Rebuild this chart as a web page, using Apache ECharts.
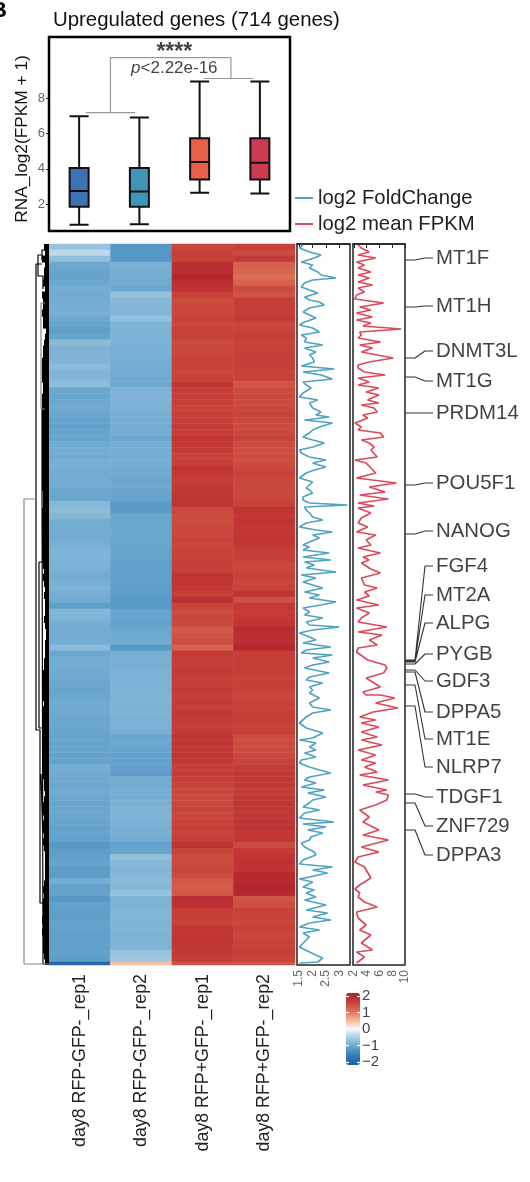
<!DOCTYPE html>
<html><head><meta charset="utf-8">
<style>html,body{margin:0;padding:0;background:#fff}#c{width:530px;height:1182px}</style>
<script src="https://cdn.jsdelivr.net/npm/echarts@6/dist/echarts.min.js"></script>
</head><body><div id="c"></div>
<script>
const FONT = 'Liberation Sans';
const samples = ['day8 RFP-GFP-_rep1','day8 RFP-GFP-_rep2','day8 RFP+GFP-_rep1','day8 RFP+GFP-_rep2'];
// boxplot: [min, q1, median, q3, max]
const box1 = [0.83,1.85,2.75,4.05,7.0];
const box2 = [0.85,1.85,2.72,4.05,6.93];
const box3 = [2.65,3.4,4.4,5.75,8.97];
const box4 = [2.6,3.4,4.35,5.75,8.97];
const boxColors = ['#3F72B5','#3E97B7','#E95F47','#D03A50'];
const boxTicks = [2,4,6,8];
// heatmap z-scores, top row to bottom row
const heatA = [
-.65,-.38,-.7,-1,-1.02,-1.06,-1,-.92,-.95,-.95,
-.92,-.9,-.98,-1.05,-1.12,-1.05,-.76,-.84,-.84,-.84,
-.74,-.82,-.82,-.74,-1,-1.02,-1,-.98,-1.02,-1.06,
-1.08,-1.05,-1.04,-.96,-.94,-.96,-.92,-.92,-.96,-.94,
-.96,-1,-1,-.78,-.74,-.8,-.92,-.95,-.95,-.94,
-.88,-.85,-.85,-.86,-.88,-.95,-.9,-.86,-.92,-.95,
-1.12,-.8,-.84,-.92,-.95,-.96,-.92,-.75,-1,-.95,
-.94,-.96,-.98,-1,-1.02,-1,-.96,-.96,-.98,-1,
-1,-1.02,-1.04,-1.06,-1.04,-1.06,-1.08,-.95,-.96,-.98,
-1,-.98,-1,-1.02,-1,-1.02,-1.04,-1.06,-1.05,-1.08,
-1.2,-1.14,-1.1,-1.05,-1.12,-1.14,-.92,-1.08,-1.06,-1.2,
-1.08,-1.1,-1.12,-1.06,-1.08,-1.1,-1.08,-1.1,-1.08,-1.12];
const heatB = [
-1.2,-1.22,-1.2,-.88,-.92,-.92,-.95,-1,-.66,-.78,
-.82,-.82,-.66,-.86,-.86,-.86,-.88,-.9,-.9,-.92,
-.94,-.96,-.98,-1,-.86,-.84,-.86,-.88,-.9,-.9,
-.92,-.94,-1,-.92,-.92,-.94,-.92,-.95,-.96,-1.02,
-.98,-1.02,-1.04,-1.16,-1.16,-1.02,-1,-1,-1,-1,
-1.02,-1.02,-1.05,-1.08,-1.1,-1.08,-1.1,-1.12,-1.14,-1.16,
-1.18,-1.05,-1.04,-1.06,-1,-.98,-.96,-1.2,-.9,-.9,
-.9,-.88,-.88,-.86,-.86,-.84,-.84,-.86,-.86,-.88,
-.88,-.9,-1.02,-1,-1.04,-1.06,-1.08,-1.1,-1.14,-.96,
-.95,-.92,-.92,-.88,-.86,-.86,-.88,-.9,-.9,-.92,
-1.08,-1.02,-.68,-.78,-.82,-.8,-.76,-.78,-.66,-.84,
-.84,-.82,-.82,-.84,-.82,-.84,-.84,-.84,-.66,-.6];
const heatC = [
1.5,1.6,1.55,1.85,1.85,2,1.85,1.8,1.55,1.45,
1.5,1.5,1.55,1.5,1.55,1.55,1.45,1.5,1.5,1.55,
1.55,1.5,1.55,1.75,1.6,1.6,1.6,1.55,1.6,1.6,
1.65,1.6,1.75,1.7,1.65,1.55,1.6,1.75,1.7,1.6,
1.65,1.7,1.75,1.75,1.5,1.45,1.45,1.5,1.5,1.55,
1.5,1.55,1.55,1.6,1.55,1.75,1.75,1.7,1.6,1.85,
1.55,1.45,1.5,1.45,1.3,1.35,1.4,1.2,1.65,1.6,
1.6,1.65,1.6,1.6,1.65,1.6,1.65,1.6,1.7,1.65,
1.6,1.65,1.75,1.75,1.7,1.75,1.7,1.6,1.65,1.6,
1.55,1.5,1.45,1.5,1.55,1.5,1.55,1.6,1.55,1.6,
1.78,1.55,1.45,1.45,1.5,1.45,1.3,1.25,1.3,1.85,
1.8,1.6,1.6,1.55,1.7,1.7,1.75,1.7,1.65,1.6];
const heatD = [
1.55,1.45,1.65,1.2,1.15,1.05,1.2,1.45,1.35,1.6,
1.6,1.6,1.65,1.5,1.55,1.6,1.55,1.55,1.6,1.6,
1.6,1.55,1.55,1.35,1.45,1.5,1.45,1.5,1.55,1.5,
1.45,1.5,1.55,1.45,1.4,1.45,1.45,1.5,1.55,1.5,
1.5,1.5,1.5,1.55,1.75,1.7,1.75,1.7,1.7,1.75,
1.7,1.6,1.6,1.5,1.5,1.55,1.5,1.55,1.75,1.4,
1.7,1.65,1.7,1.75,1.9,1.85,1.85,2,1.6,1.6,
1.6,1.6,1.55,1.6,1.55,1.5,1.55,1.55,1.6,1.6,
1.55,1.6,1.45,1.45,1.45,1.5,1.55,1.65,1.7,1.7,
1.7,1.65,1.7,1.75,1.7,1.7,1.75,1.8,1.7,1.7,
1.45,1.7,1.75,1.8,1.75,1.95,1.95,2,1.95,1.35,
1.4,1.55,1.55,1.5,1.55,1.5,1.55,1.55,1.6,1.55];
const heatLast = [-1.95,0.45,1.35,1.35];
// log2 FoldChange profile
const fcRow = [1,4,8,11,14,18,21,24,28,31,34,36,39,43,46,49,53,56,58,61,64,68,71,74,78,81,84,88,91,94,98,101,104,108,111,114,118,122,125,128,131,135,138,141,144,149,153,156,159,164,168,171,173,176,179,183,186,189,193,196,199,203,206,209,213,216,219,223,226,229,234,238,241,244,
246,249,253,256,259,261,263,266,269,273,276,279,283,286,288,291,294,298,301,303,306,309,313,316,318,321,324,328,331,334,338,341,344,348,351,354,358,361,364,368,371,374,378,381,383,386,389,393,396,399,403,406,409,411,414,418,421,424,429,433,436,439,443,446,449,454,459,463,466,469,473,479,484,489,494,
496,499,503,506,509,513,516,519,523,526,529,533,536,539,543,546,549,553,556,559,563,566,569,574,578,580,583,586,589,593,596,599,603,608,611,616,620,623,626,629,633,635,638,643,646,649,653,656,661,666,669,673,676,679,683,686,689,693,696,703,708,711,714,718,719];
const fcValue = [1.65,1.52,1.89,2.32,2.07,1.59,2.01,1.89,2.2,2.32,2.87,2.01,1.71,1.59,1.89,2.2,1.71,1.89,2.26,2.44,1.89,1.65,1.89,2.13,1.71,1.52,2.01,2.26,1.59,1.77,1.71,2.38,1.71,2.13,1.89,2.01,2.07,1.59,2.8,1.65,2.32,2.74,1.65,1.77,1.95,1.65,1.52,2.2,1.89,2.01,2.32,2.13,2.62,1.71,2.74,2.26,2.01,1.89,1.65,2.01,2.44,2.01,1.52,1.59,1.89,2.5,2.01,2.5,2.07,1.77,1.52,2.01,1.89,1.77,
1.89,2.01,1.65,1.65,1.89,3.29,1.71,1.77,1.89,2.01,2.38,1.77,1.52,2.13,2.74,2.01,2.26,1.89,1.65,1.89,1.65,2.62,1.65,2.68,1.71,2.07,1.77,2.87,1.59,2.13,1.65,2.01,2.38,1.71,2.26,1.89,2.87,2.32,1.65,1.89,1.71,2.38,1.77,1.89,2.99,2.01,1.52,1.89,2.13,1.65,2.68,1.77,1.59,2.74,2.01,2.62,2.01,1.71,2.62,1.89,1.77,2.38,1.89,2.01,1.89,2.26,1.89,2.01,2.68,2.01,1.77,1.52,1.77,2.38,2.01,
1.52,2.13,1.89,2.13,1.71,2.13,1.59,1.52,1.89,2.26,2.68,1.89,1.71,2.13,1.59,2.44,1.83,2.5,2.01,1.89,1.65,2.26,1.71,1.52,2.8,1.65,2.5,1.83,2.38,1.95,1.89,1.59,1.71,2.07,2.13,1.65,1.52,2.74,2.01,2.56,1.89,1.52,2.01,1.65,2.07,1.77,2.13,1.71,2.5,1.77,2.56,2.01,2.68,1.89,1.52,2.26,1.65,1.89,1.77,1.52,1.89,2.13,2.38,2.2,1.52];
// log2 mean FPKM profile
const fpkmRow = [1,4,8,11,14,18,21,24,28,31,34,38,41,44,48,51,55,59,63,66,69,73,76,79,82,85,88,91,94,98,101,104,108,111,114,118,121,124,128,131,134,138,141,144,148,151,156,159,161,164,168,171,174,179,183,186,189,193,196,199,203,206,213,216,219,224,229,234,239,243,
248,251,255,259,262,264,269,274,279,283,288,291,296,301,304,309,313,316,319,325,329,334,341,344,348,352,356,361,364,369,374,378,383,388,391,396,401,404,408,416,421,424,429,434,439,443,448,451,451,454,459,464,468,473,476,479,483,488,493,
496,501,506,511,516,519,523,528,531,536,541,546,548,551,556,561,566,573,578,586,591,596,603,608,613,618,623,634,641,645,649,653,658,663,668,674,681,686,691,699,706,708,713,719];
const fpkmValue = [2.65,3.15,4.4,2.65,5.4,2.4,3.65,2.65,4.65,2.65,4.4,2.65,4.9,2.65,3.65,2.4,2.15,6.65,2.9,4.65,2.4,4.9,2.4,4.65,3.4,9.4,2.9,3.15,2.65,6.15,2.9,4.9,3.15,5.65,8.15,4.4,2.65,2.65,3.65,6.9,2.65,4.4,2.65,5.9,3.9,5.9,4.15,5.9,3.15,5.15,5.65,3.4,4.15,2.15,3.15,2.65,6.15,6.65,3.15,4.4,5.15,4.65,5.65,2.15,3.9,4.65,5.4,2.4,8.65,4.4,
6.9,2.9,7.4,2.65,5.15,2.65,4.65,3.15,2.65,4.15,2.4,5.4,3.9,4.65,2.65,6.15,3.4,4.4,3.15,4.65,6.15,3.15,3.65,5.65,3.65,4.4,2.4,5.9,2.4,4.4,3.15,2.65,7.15,2.65,6.4,4.4,5.65,2.65,2.4,4.15,6.9,7.15,6.65,3.9,5.15,6.15,3.4,3.9,6.15,8.4,5.4,8.9,5,2.9,5.4,3.15,5.9,3.15,5.65,3.15,
6.4,2.65,5.4,3.15,5.4,3.65,5.65,2.9,7.4,3.4,7.15,5.4,7.4,7.15,5.4,2.9,4.4,3.4,5.9,3.4,7.4,3.15,5.9,2.65,2.15,3.65,4.65,2.9,2.15,2.9,2.65,3.65,5.65,2.4,2.65,3.9,2.9,4.65,3.15,4.9,2.4,3.65,2.4,4.15,2.9,7.65,2.4,3.65];
const fcTicks = [1.5,2,2.5,3];
const fpkmTicks = [2,4,6,8,10];
// labelled genes: heat row and label row
const geneNames = ['MT1F','MT1H','DNMT3L','MT1G','PRDM14','POU5F1','NANOG','FGF4','MT2A','ALPG','PYGB','GDF3','DPPA5','MT1E','NLRP7','TDGF1','ZNF729','DPPA3'];
const geneRow = [16,63,114,133,169,241,290,416,417,418,420,426,428,441,462,550,559,586];
const geneLabelRow = [14,62,107,137,169,239,287,322,351,379,410,437,468,495,523,553,582,611];
// dendrogram: leaf-cluster heights per 120 rows, and branch paths (height,row)
const dendMass = [
5,4,7,4,5,5,6,4,7,6,6,7,6,6,3,4,5,6,6,7,
7,7,7,6,6,7,7,7,7,7,7,7,7,7,7,7,7,7,7,7,
7,6,6,6,7,7,7,7,7,7,7,7,7,6,5,6,5,4,5,4,
4,4,5,4,3,3,4,4,4,5,5,6,6,6,7,6,5,6,6,6,
6,6,7,7,6,7,7,6,6,5,5,4,5,6,6,5,6,6,5,6,
5,4,4,4,4,4,5,6,5,6,6,6,7,6,7,6,6,6,5,4];
const branchBlack = [
[[7,20],[13,20],[13,486],[9,486],[9,659],[5,659]],
[[4,6],[7,6],[7,16],[3,16]],
[[7,11],[11,11],[11,32],[6,32],[6,45]],
[[6,318],[10,318],[10,484],[7,484]],
[[7,165],[7,240],[6,240],[6,720],[2,720]],
[[8,530],[6,530],[6,600]]];
const branchGray = [
[[12.5,255],[25,255],[25,720],[0,720]],
[[4,59],[8,59],[8,165],[4,165]]];

const heatData = [];
[heatA,heatB,heatC,heatD].forEach((col,c)=>col.forEach((v,r)=>heatData.push([c,r,v])));
const rows = heatA.map((_,i)=>i);
const zip = (a,b)=>a.map((v,i)=>[v,b[i]]);
const flat = list => { const out=[]; list.forEach((p,i)=>{ if(i) out.push([null,null]); p.forEach(q=>out.push(q)); }); return out; };
const connectors = flat(geneRow.map((r,i)=>[[0,r],[10,r],[20,geneLabelRow[i]],[28,geneLabelRow[i]]]));
const TOP=244, H=721;
const hidden = {show:false};
const bracket = flat([
  [[0.61,7.2],[1.43,7.2]],
  [[1.02,7.2],[1.02,10.33],[3.02,10.33],[3.02,9.14]],
  [[2.57,9.14],[3.39,9.14]]]);

const option = {
  animation:false,
  backgroundColor:'#fff',
  textStyle:{fontFamily:FONT},
  title:[
    {text:'B',left:-14,top:-5,textStyle:{fontFamily:FONT,fontSize:22,fontWeight:'bold',color:'#000'}},
    {text:'Upregulated genes (714 genes)',left:53,top:10,padding:0,textStyle:{fontFamily:FONT,fontSize:20.4,fontWeight:'normal',color:'#111'}}
  ],
  legend:{left:295,top:188,padding:0,orient:'vertical',itemWidth:18,itemHeight:2,itemGap:6,icon:'rect',
    data:['log2 FoldChange','log2 mean FPKM'],textStyle:{fontFamily:FONT,fontSize:20.3,color:'#222'}},
  visualMap:{type:'continuous',seriesIndex:[3,4],min:-2.1,max:2.1,left:331,top:978,itemWidth:14,itemHeight:72,
    calculable:false,hoverLink:false,
    inRange:{color:['#1f60a8','#2f7bb6','#65a4cd','#a6cde3','#f7f7f7','#f7b699','#dc6e56','#c64038','#b0202c']}},
  grid:[
    {left:49,top:37,width:241,height:194,show:true,borderColor:'#000',borderWidth:2.5,backgroundColor:'#fff'},
    {left:49,top:TOP,width:246,height:718},
    {left:49,top:TOP+718,width:246,height:3},
    {left:297,top:TOP,width:53,height:H,show:true,borderColor:'#222',borderWidth:1.5},
    {left:353,top:TOP,width:52,height:H,show:true,borderColor:'#222',borderWidth:1.5},
    {left:405,top:TOP,width:28,height:H},
    {left:15,top:TOP,width:34,height:H},
    {left:346,top:996,width:14,height:66}
  ],
  xAxis:[
    {gridIndex:0,type:'category',data:samples,axisLine:hidden,axisTick:hidden,axisLabel:hidden},
    {gridIndex:0,type:'value',min:0,max:4,show:false,position:'top'},
    {gridIndex:1,type:'category',data:samples,position:'bottom',offset:3,axisLine:hidden,axisTick:hidden,
      axisLabel:{rotate:90,fontFamily:FONT,fontSize:17.8,color:'#222',margin:9}},
    {gridIndex:2,type:'category',data:samples,show:false},
    {gridIndex:3,type:'value',min:1.43,max:3.39,splitLine:hidden,axisLine:{show:true,lineStyle:{color:'#222',width:1.5}},
      axisTick:{show:true,length:4,lineStyle:{color:'#222'},customValues:fcTicks},
      axisLabel:{show:true,rotate:90,fontFamily:FONT,fontSize:12,color:'#666',margin:5,customValues:fcTicks,hideOverlap:false,showMinLabel:true,showMaxLabel:true}},
    {gridIndex:4,type:'value',min:1.85,max:10,splitLine:hidden,axisLine:{show:true,lineStyle:{color:'#222',width:1.5}},
      axisTick:{show:true,length:4,lineStyle:{color:'#222'},customValues:fpkmTicks},
      axisLabel:{show:true,rotate:90,fontFamily:FONT,fontSize:12,color:'#666',margin:5,customValues:fpkmTicks,hideOverlap:false,showMinLabel:true,showMaxLabel:true}},
    {gridIndex:5,type:'value',min:0,max:28,show:false},
    {gridIndex:6,type:'value',min:0,max:34,inverse:true,show:false},
    {gridIndex:7,type:'value',min:0,max:1,show:false}
  ],
  yAxis:[
    {gridIndex:0,type:'value',min:0.47,max:11.5,splitLine:hidden,
      name:'RNA_log2(FPKM + 1)',nameLocation:'middle',nameGap:18,
      nameTextStyle:{fontFamily:FONT,fontSize:17.3,color:'#111',padding:[0,10,0,0]},
      axisLine:hidden,axisTick:{show:true,length:3,lineStyle:{color:'#222'},customValues:boxTicks},
      axisLabel:{show:true,fontFamily:FONT,color:'#666',fontSize:13,margin:4,customValues:boxTicks}},
    {gridIndex:1,type:'category',data:rows,inverse:true,show:false},
    {gridIndex:2,type:'category',data:[0],show:false},
    {gridIndex:3,type:'value',inverse:true,min:0,max:H,show:false},
    {gridIndex:4,type:'value',inverse:true,min:0,max:H,show:false},
    {gridIndex:5,type:'value',inverse:true,min:0,max:H,show:false},
    {gridIndex:6,type:'value',inverse:true,min:0,max:H,show:false},
    {gridIndex:6,type:'category',data:rows,inverse:true,show:false},
    {gridIndex:7,type:'value',min:-2,max:2,interval:1,z:8,position:'left',splitLine:hidden,axisLine:hidden,
      axisTick:{show:true,inside:true,length:3,lineStyle:{color:'#fff',width:1.2}},axisLabel:hidden},
    {gridIndex:7,type:'value',min:-2,max:2,interval:1,z:8,position:'right',splitLine:hidden,axisLine:hidden,
      axisTick:{show:true,inside:true,length:3,lineStyle:{color:'#fff',width:1.2}},
      axisLabel:{show:true,fontFamily:FONT,fontSize:15,color:'#444',margin:2,hideOverlap:false,formatter:v=>String(v).replace('-','\u2212')}}
  ],
  series:[
    {type:'boxplot',xAxisIndex:0,yAxisIndex:0,boxWidth:[19,19],
      data:[box1,box2,box3,box4].map((v,i)=>({value:v,itemStyle:{color:boxColors[i],borderColor:'#111',borderWidth:2}}))},
    {type:'line',xAxisIndex:1,yAxisIndex:0,showSymbol:false,silent:true,lineStyle:{color:'#999',width:1.2},data:bracket},
    {type:'scatter',xAxisIndex:1,yAxisIndex:0,symbolSize:0,silent:true,
      data:[{value:[2.08,10.6],label:{formatter:'****',fontSize:23,fontWeight:'bold',color:'#111',position:'inside'}},
            {value:[2.08,9.7],label:{formatter:'{i|p}<2.22e-16',color:'#111',fontSize:17,position:'inside',rich:{i:{fontStyle:'italic',fontSize:17,color:'#111',fontFamily:FONT}}}}],
      label:{show:true,fontFamily:FONT}},
    {type:'heatmap',xAxisIndex:2,yAxisIndex:1,data:heatData},
    {type:'heatmap',xAxisIndex:3,yAxisIndex:2,data:heatLast.map((v,c)=>[c,0,v])},
    {name:'log2 FoldChange',type:'line',xAxisIndex:4,yAxisIndex:3,showSymbol:false,itemStyle:{color:'#4FA3C1'},
      lineStyle:{color:'#4FA3C1',width:1.7},data:zip(fcValue,fcRow)},
    {name:'log2 mean FPKM',type:'line',xAxisIndex:5,yAxisIndex:4,showSymbol:false,itemStyle:{color:'#DC4A5C'},
      lineStyle:{color:'#DC4A5C',width:1.7},data:zip(fpkmValue,fpkmRow)},
    {type:'line',xAxisIndex:6,yAxisIndex:5,showSymbol:false,silent:true,lineStyle:{color:'#333',width:1.1},data:connectors},
    {type:'scatter',xAxisIndex:6,yAxisIndex:5,symbolSize:0,silent:true,
      data:geneNames.map((n,i)=>[28,geneLabelRow[i],n]),
      label:{show:true,position:'right',distance:3,fontFamily:FONT,fontSize:20.4,color:'#111',formatter:p=>p.value[2]}},
    {type:'bar',xAxisIndex:7,yAxisIndex:7,barWidth:7,itemStyle:{color:'#000'},data:dendMass,silent:true},
    {type:'line',xAxisIndex:7,yAxisIndex:6,showSymbol:false,silent:true,lineStyle:{color:'#000',width:1.2},data:flat(branchBlack)},
    {type:'line',xAxisIndex:7,yAxisIndex:6,showSymbol:false,silent:true,lineStyle:{color:'#888',width:1.2},data:flat(branchGray)}
  ]
};
const chart = echarts.init(document.getElementById('c'),null,{renderer:'canvas'});
chart.setOption(option);
</script></body></html>
